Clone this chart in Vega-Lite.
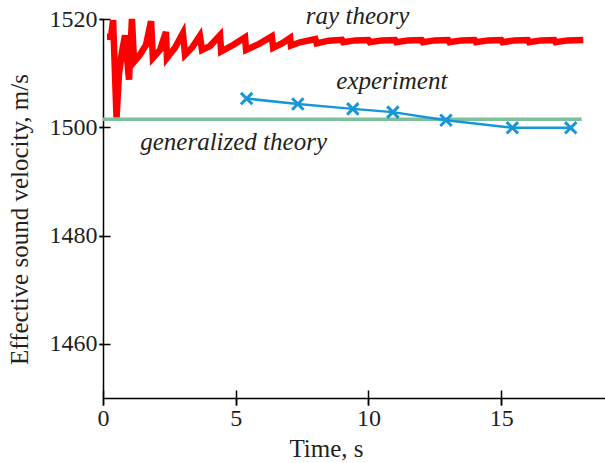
{
  "$schema": "https://vega.github.io/schema/vega-lite/v6.json",
  "width": 502,
  "height": 379,
  "autosize": "none",
  "padding": {"left": 103, "top": 19, "right": 0, "bottom": 65},
  "background": "white",
  "config": {"view": {"stroke": null}, "axis": {"grid": false}},
  "datasets": {
    "ray": [
      {"t": 0.15, "v": 1516.7}, {"t": 0.30, "v": 1516.7}, {"t": 0.38, "v": 1519.8}, {"t": 0.51, "v": 1501.8},
      {"t": 0.60, "v": 1509.7}, {"t": 0.70, "v": 1513.5}, {"t": 0.83, "v": 1517.0}, {"t": 0.98, "v": 1508.8}, {"t": 1.09, "v": 1520.0},
      {"t": 1.17, "v": 1512.1}, {"t": 1.39, "v": 1513.4}, {"t": 1.62, "v": 1515.2}, {"t": 1.81, "v": 1519.6},
      {"t": 1.88, "v": 1512.8}, {"t": 2.15, "v": 1514.3}, {"t": 2.37, "v": 1517.6}, {"t": 2.41, "v": 1512.8},
      {"t": 2.71, "v": 1514.7}, {"t": 3.01, "v": 1517.4}, {"t": 3.09, "v": 1513.4}, {"t": 3.35, "v": 1514.7},
      {"t": 3.65, "v": 1516.9}, {"t": 3.73, "v": 1514.3}, {"t": 4.03, "v": 1515.0}, {"t": 4.41, "v": 1517.0},
      {"t": 4.45, "v": 1514.0}, {"t": 4.90, "v": 1515.2}, {"t": 5.35, "v": 1516.6}, {"t": 5.39, "v": 1514.3},
      {"t": 5.84, "v": 1515.3}, {"t": 6.36, "v": 1516.8}, {"t": 6.41, "v": 1514.7}, {"t": 6.74, "v": 1515.5},
      {"t": 7.05, "v": 1516.5}, {"t": 7.08, "v": 1515.1}, {"t": 7.42, "v": 1515.7},
      {"t": 8.0, "v": 1516.3}, {"t": 8.05, "v": 1515.5},
      {"t": 8.5, "v": 1516.0}, {"t": 9.0, "v": 1516.15}, {"t": 9.05, "v": 1515.7},
      {"t": 9.5, "v": 1516.05}, {"t": 10.0, "v": 1516.1}, {"t": 10.05, "v": 1515.7},
      {"t": 10.5, "v": 1516.05}, {"t": 11.0, "v": 1516.1}, {"t": 11.05, "v": 1515.7},
      {"t": 11.5, "v": 1516.05}, {"t": 12.0, "v": 1516.1}, {"t": 12.05, "v": 1515.7},
      {"t": 12.5, "v": 1516.05}, {"t": 13.0, "v": 1516.1}, {"t": 13.05, "v": 1515.7},
      {"t": 13.5, "v": 1516.05}, {"t": 14.0, "v": 1516.1}, {"t": 14.05, "v": 1515.7},
      {"t": 14.5, "v": 1516.05}, {"t": 15.0, "v": 1516.1}, {"t": 15.05, "v": 1515.7},
      {"t": 15.5, "v": 1516.05}, {"t": 16.0, "v": 1516.1}, {"t": 16.05, "v": 1515.7},
      {"t": 16.5, "v": 1516.05}, {"t": 17.0, "v": 1516.1}, {"t": 17.05, "v": 1515.7},
      {"t": 17.5, "v": 1516.05}, {"t": 18.09, "v": 1516.1}
    ],
    "gen": [{"t": 0, "v": 1501.5}, {"t": 18.03, "v": 1501.5}],
    "exp": [
      {"t": 5.41, "v": 1505.3}, {"t": 7.34, "v": 1504.3}, {"t": 9.41, "v": 1503.4}, {"t": 10.92, "v": 1502.8},
      {"t": 12.92, "v": 1501.3}, {"t": 15.42, "v": 1499.9}, {"t": 17.62, "v": 1499.9}
    ],
    "labels": [
      {"t": 9.59, "v": 1519.1, "label": "ray theory"},
      {"t": 10.88, "v": 1507.1, "label": "experiment"},
      {"t": 4.92, "v": 1495.8, "label": "generalized theory"}
    ]
  },
  "layer": [
    {
      "data": {"name": "ray"},
      "mark": {"type": "line", "color": "#ff0000", "strokeWidth": 6.5, "clip": false},
      "encoding": {
        "x": {"field": "t", "type": "quantitative", "scale": {"domain": [0, 18.91], "nice": false, "zero": false},
          "axis": {"values": [0, 5, 10, 15], "format": "d", "title": "Time, s", "domainColor": "black", "domainWidth": 1.5,
            "tickColor": "black", "tickWidth": 1.5, "tickSize": 7, "labelFont": "Liberation Serif", "labelFontSize": 24,
            "labelColor": "#231f20", "labelPadding": 1, "labelDx": 5, "labelFlush": false, "labelOverlap": false,
            "titleFont": "Liberation Serif", "titleFontSize": 25, "titleFontWeight": "normal", "titleColor": "#231f20",
            "titleX": 223, "titleY": 58, "titleBaseline": "alphabetic", "titleAlign": "center"}},
        "y": {"field": "v", "type": "quantitative", "scale": {"domain": [1450, 1520], "nice": false, "zero": false},
          "axis": {"values": [1460, 1480, 1500, 1520], "format": "d", "title": "Effective sound velocity, m/s", "domainColor": "black", "domainWidth": 1.5,
            "tickColor": "black", "tickWidth": 1.5, "tickSize": 4, "labelFont": "Liberation Serif", "labelFontSize": 24,
            "labelColor": "#231f20", "labelPadding": 2, "labelDy": -3, "labelFlush": false, "labelOverlap": false,
            "titleFont": "Liberation Serif", "titleFontSize": 25, "titleFontWeight": "normal", "titleColor": "#231f20",
            "titleX": -76, "titleY": 200, "titleAngle": -90, "titleBaseline": "alphabetic", "titleAlign": "center"}}
      }
    },
    {
      "data": {"name": "gen"},
      "mark": {"type": "line", "color": "#7cc19b", "strokeWidth": 3.5, "clip": false},
      "encoding": {
        "x": {"field": "t", "type": "quantitative", "scale": {"domain": [0, 18.91], "nice": false, "zero": false},
          "axis": {"orient": "bottom", "values": [0, 5, 10, 15], "tickSize": 15, "offset": -8, "labels": false, "domain": false, "title": null,
            "tickColor": "black", "tickWidth": 1.5}},
        "y": {"field": "v", "type": "quantitative", "scale": {"domain": [1450, 1520], "nice": false, "zero": false},
          "axis": {"orient": "left", "values": [1460, 1480, 1500, 1520], "tickSize": 11, "offset": -7, "labels": false, "domain": false, "title": null,
            "tickColor": "black", "tickWidth": 1.5}}
      }
    },
    {
      "data": {"name": "exp"},
      "mark": {"type": "line", "color": "#1796d8", "strokeWidth": 2.5},
      "encoding": {
        "x": {"field": "t", "type": "quantitative", "axis": null},
        "y": {"field": "v", "type": "quantitative", "axis": null}
      }
    },
    {
      "data": {"name": "exp"},
      "mark": {"type": "point", "shape": "M-1,-1L1,1M-1,1L1,-1", "filled": false, "stroke": "#1796d8", "strokeWidth": 3, "size": 130, "opacity": 1},
      "encoding": {
        "x": {"field": "t", "type": "quantitative", "axis": null},
        "y": {"field": "v", "type": "quantitative", "axis": null}
      }
    },
    {
      "data": {"name": "labels"},
      "mark": {"type": "text", "font": "Liberation Serif", "fontSize": 25, "fontStyle": "italic", "color": "#231f20", "align": "center", "baseline": "alphabetic", "clip": false},
      "encoding": {
        "x": {"field": "t", "type": "quantitative", "axis": null},
        "y": {"field": "v", "type": "quantitative", "axis": null},
        "text": {"field": "label"}
      }
    }
  ],
  "resolve": {"axis": {"x": "independent", "y": "independent"}}
}
